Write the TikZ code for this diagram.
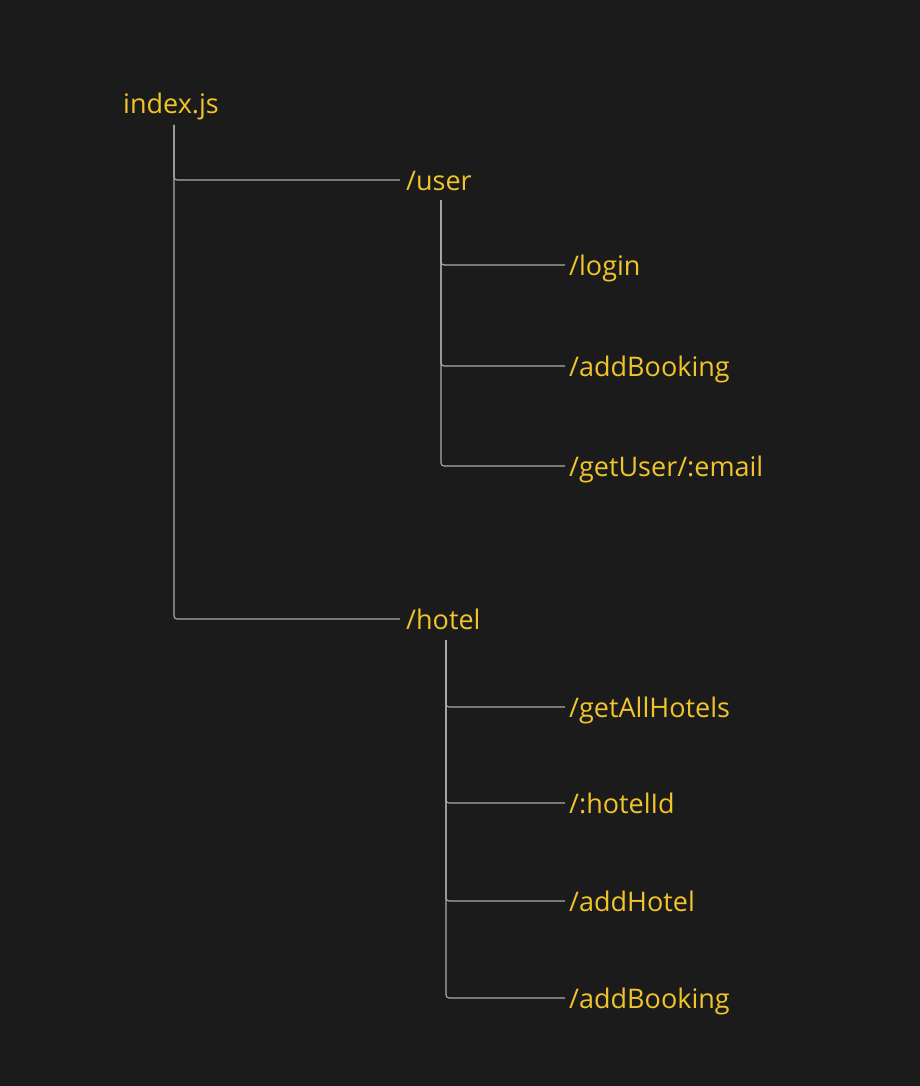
\documentclass[tikz,border=0pt]{standalone}
\usepackage{fontspec}
\setmainfont{Open Sans}
\usepackage{tikz}
\usetikzlibrary{positioning}
\definecolor{routebg}{RGB}{27,27,27}
\definecolor{routeyellow}{RGB}{240,196,42}
\definecolor{routegray}{RGB}{172,172,172}

\begin{document}
\begin{tikzpicture}[
  x=1pt, y=-1pt,
  route/.style={anchor=west, inner sep=0pt, text height=26pt, text depth=6pt,
    text=routeyellow, font=\fontsize{27}{31}\selectfont},
  link/.style={draw=routegray, line width=1.1pt, rounded corners=3pt}
]
  \fill[routebg] (0,0) rectangle (920,1086);

  \node[route] (idx) at (123,104) {index.js};
  \node[route] (user) at (406,180) {/user};
  \node[route] (login) at (569,265) {/login};
  \node[route] (ubook) at (569,366) {/addBooking};
  \node[route] (getuser) at (569,466) {/getUser/:email};
  \node[route] (hotel) at (406,619) {/hotel};
  \node[route] (allhot) at (569,707) {/getAllHotels};
  \node[route] (hotid) at (569,803) {/:hotelId};
  \node[route] (addhot) at (569,901) {/addHotel};
  \node[route] (hbook) at (569,998) {/addBooking};

  \coordinate (idxroot) at (174,125);
  \coordinate (userroot) at (441,200);
  \coordinate (hotelroot) at (446,640);

  \draw[link] (idxroot) |- ([xshift=-6pt]user.west);
  \draw[link] (idxroot) |- ([xshift=-6pt]hotel.west);
  \draw[link] (userroot) |- ([xshift=-4pt]login.west);
  \draw[link] (userroot) |- ([xshift=-4pt]ubook.west);
  \draw[link] (userroot) |- ([xshift=-4pt]getuser.west);
  \draw[link] (hotelroot) |- ([xshift=-4pt]allhot.west);
  \draw[link] (hotelroot) |- ([xshift=-4pt]hotid.west);
  \draw[link] (hotelroot) |- ([xshift=-4pt]addhot.west);
  \draw[link] (hotelroot) |- ([xshift=-4pt]hbook.west);
\end{tikzpicture}
\end{document}
